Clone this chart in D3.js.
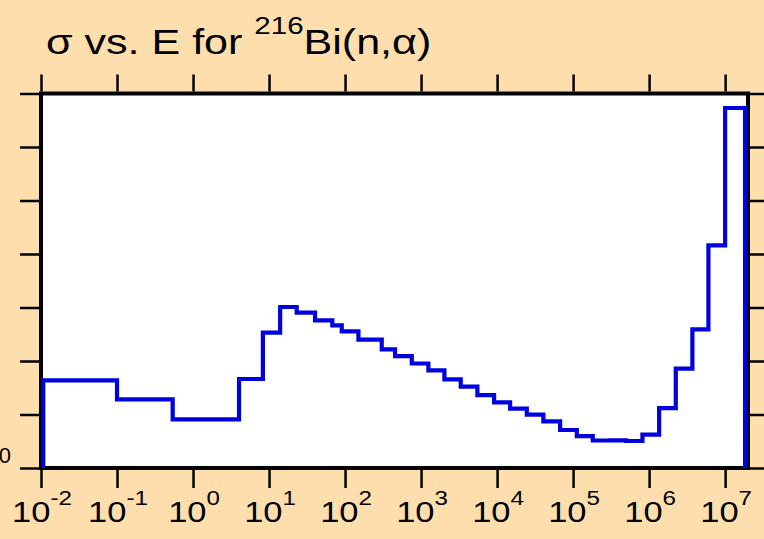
<!DOCTYPE html>
<html><head><meta charset="utf-8">
<script src="https://cdn.jsdelivr.net/npm/d3@7"></script>
<style>html,body{margin:0;padding:0;background:#FFDEAD;} svg{display:block;}</style>
</head><body><svg id="chart" width="764" height="539"></svg>
<script>
// ---- data ----
const titleMain = "σ vs. E for ";
const titleSup = "216";
const titleRest = "Bi(n,α)";
// bin edges (eV) of the step histogram
const energyEdges = [0.0107, 0.1, 0.54, 4.03, 8.3, 14, 23.1, 40.3, 68, 90.5, 150, 304, 455, 755,
  1248, 2028, 3327, 5508, 9140, 14830, 24600, 40640, 67450, 1.12e5, 1.816e5, 3.07e5, 4.98e5,
  8.17e5, 1.355e6, 2.244e6, 3.71e6, 6.03e6, 1.0e7, 1.83e7];
// cross-section value in each bin
const sigmaValues = [1.639, 1.284, 0.910, 1.664, 2.529, 3.009, 2.903, 2.761, 2.667, 2.555, 2.398,
  2.219, 2.093, 1.953, 1.826, 1.658, 1.520, 1.364, 1.228, 1.108, 0.996, 0.873, 0.710, 0.594,
  0.514, 0.518, 0.505, 0.622, 1.121, 1.856, 2.593, 4.163, 6.729];
const xTickExponents = [-2, -1, 0, 1, 2, 3, 4, 5, 6, 7];
const yTickValues = [0, 1, 2, 3, 4, 5, 6, 7];
const yTickLabels = ["0"];
const xDomain = [1e-2, 2e7];
const yDomain = [0, 7];

(function () {
// ---- layout ----
const svg = d3.select("#chart");
const W = 764, H = 539;
const pL = 41, pR = 748, pT = 93.5, pB = 468;
svg.append("rect").attr("width", W).attr("height", H).attr("fill", "#FFDEAD");

const x = d3.scaleLog().domain(xDomain).range([pL, pR]);
const y = d3.scaleLinear().domain(yDomain).range([pB, pT]);
const font = "'Liberation Sans', Arial, Helvetica, sans-serif";

// plot area
svg.append("rect").attr("x", pL).attr("y", pT).attr("width", pR - pL).attr("height", pB - pT)
  .attr("fill", "#ffffff").attr("stroke", "#000").attr("stroke-width", 4);

const xTicks = xTickExponents.map(e => Math.pow(10, e));
function styleAxis(g) {
  g.select(".domain").remove();
  g.selectAll(".tick line").attr("stroke", "#000").attr("stroke-width", 2.5);
  g.selectAll(".tick text").remove();
}
svg.append("g").attr("transform", `translate(0,${pB + 2})`)
  .call(d3.axisBottom(x).tickValues(xTicks).tickSize(18).tickFormat("")).call(styleAxis);
svg.append("g").attr("transform", `translate(0,${pT - 2})`)
  .call(d3.axisTop(x).tickValues(xTicks).tickSize(17).tickFormat("")).call(styleAxis);
svg.append("g").attr("transform", `translate(${pL - 2},0)`)
  .call(d3.axisLeft(y).tickValues(yTickValues).tickSize(19).tickFormat("")).call(styleAxis);
svg.append("g").attr("transform", `translate(${pR + 2},0)`)
  .call(d3.axisRight(y).tickValues(yTickValues).tickSize(20).tickFormat("")).call(styleAxis);

// x tick labels 10^n
const sxLab = 1.15;
xTickExponents.forEach(e => {
  const g = svg.append("g").attr("transform", `translate(${x(Math.pow(10, e)) + 1},521.5) scale(${sxLab},1)`);
  const t = g.append("text").attr("text-anchor", "middle").attr("font-family", font)
    .attr("font-size", 30).attr("fill", "#000");
  t.append("tspan").text("10");
  t.append("tspan").attr("dy", -17).attr("font-size", 21).text(e < 0 ? "-" + Math.abs(e) : String(e));
});

// y tick labels (only "0" visible in the picture)
yTickLabels.forEach((lab, i) => {
  svg.append("text").attr("x", 11).attr("y", y(yTickValues[i]) - 5)
    .attr("text-anchor", "end").attr("font-family", font).attr("font-size", 22)
    .attr("fill", "#000").text(lab);
});

// step line
const pts = [[energyEdges[0], 0]];
sigmaValues.forEach((v, i) => {
  pts.push([energyEdges[i], v]);
  pts.push([energyEdges[i + 1], v]);
});
pts.push([energyEdges[energyEdges.length - 1], 0]);
const line = d3.line().x(d => x(d[0])).y(d => y(d[1]));
svg.append("path").attr("d", line(pts)).attr("fill", "none").attr("stroke", "#0000e0")
  .attr("stroke-width", 4.2).attr("stroke-linejoin", "miter").attr("stroke-linecap", "butt");

// title
const sxTitle = 1.23;
const tg = svg.append("g").attr("transform", `translate(46,54) scale(${sxTitle},1)`);
const tt = tg.append("text").attr("font-family", font).attr("font-size", 35).attr("fill", "#000");
tt.append("tspan").text(titleMain);
tt.append("tspan").attr("dy", -20).attr("font-size", 24).text(titleSup);
tt.append("tspan").attr("dy", 20).attr("font-size", 35).text(titleRest);
})();
</script>
</body></html>
